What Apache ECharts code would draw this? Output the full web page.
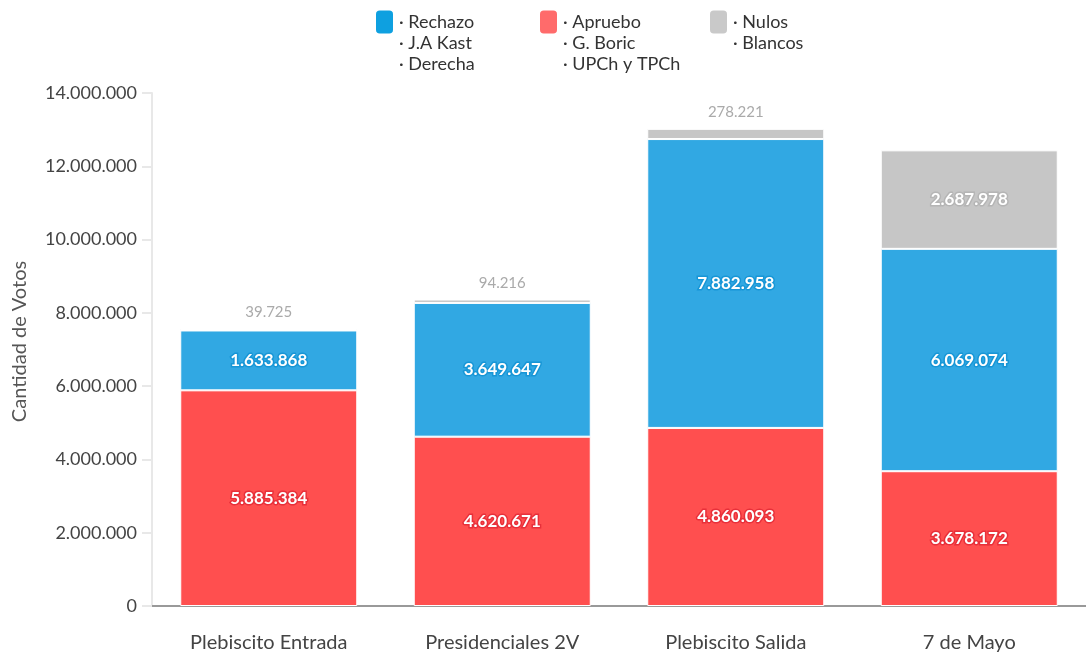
<!DOCTYPE html>
<html>
<head>
<meta charset="utf-8">
<script src="https://cdn.jsdelivr.net/npm/echarts@6/dist/echarts.min.js"></script>
<style>
  html, body { margin: 0; padding: 0; background: #fff; }
  #chart { width: 1086px; height: 655px; }
</style>
</head>
<body>
<div id="chart"></div>
<script>
// datos
const categories = ["Plebiscito Entrada", "Presidenciales 2V", "Plebiscito Salida", "7 de Mayo"];
const apruebo = [5885384, 4620671, 4860093, 3678172];
const rechazo = [1633868, 3649647, 7882958, 6069074];
const nulos = [39725, 94216, 278221, 2687978];
const yTicks = [0, 2000000, 4000000, 6000000, 8000000, 10000000, 12000000, 14000000];
const legendLines = {
  Rechazo: ["· Rechazo", "· J.A Kast", "· Derecha"],
  Apruebo: ["· Apruebo", "· G. Boric", "· UPCh y TPCh"],
  Nulos: ["· Nulos", "· Blancos"],
};

const FONT = "Lato, 'Open Sans', sans-serif";

// formato con punto como separador de miles
const fmt = (v) => String(Math.round(v)).replace(/\B(?=(\d{3})+(?!\d))/g, ".");

const insideLabel = (border) => ({
  show: true,
  position: "inside",
  color: "#fff",
  fontFamily: FONT,
  fontWeight: "bold",
  fontSize: 17,
  textBorderColor: border,
  textBorderWidth: 3,
  formatter: (p) => fmt(p.value),
});

// los nulos pequeños van arriba en gris, el grande adentro
const nulosData = nulos.map((v) => ({
  value: v,
  label: v > 1000000
    ? insideLabel("#b5b5b5")
    : { show: true, position: "top", distance: 9, color: "#aaa", fontFamily: FONT, fontSize: 15, formatter: (p) => fmt(p.value) },
}));

// el icono queda centrado en el texto: se agregan lineas vacias arriba
// para que quede a la altura de la primera linea
const legendLabel = (name) => {
  const lines = legendLines[name];
  const pad = new Array(lines.length - 1).fill("");
  return pad.concat(lines).join("\n");
};

const makeLegend = (name, color, left, top) => ({
  data: [{ name: name, itemStyle: { color: color } }],
  left: left,
  top: top,
  icon: "roundRect",
  itemWidth: 19,
  itemHeight: 25,
  selectedMode: false,
  textStyle: { color: "#333", fontFamily: FONT, fontSize: 18, lineHeight: 21 },
  formatter: legendLabel,
});

const chart = echarts.init(document.getElementById("chart"), null, { renderer: "canvas" });

chart.setOption({
  animation: false,
  textStyle: { fontFamily: FONT },
  legend: [
    makeLegend("Rechazo", "#0ea0e0", 369, -35.5),
    makeLegend("Apruebo", "#ff6b6b", 533, -35.5),
    makeLegend("Nulos", "#c9c9c9", 703, -14.5),
  ],
  grid: { left: 152, top: 93, width: 939, bottom: 49, containLabel: false },
  xAxis: {
    type: "category",
    data: categories,
    axisLine: { lineStyle: { color: "#999", width: 2 } },
    axisTick: { alignWithLabel: true, length: 10, lineStyle: { color: "#999", width: 2 } },
    axisLabel: { color: "#444", fontSize: 20, margin: 27, fontFamily: FONT },
  },
  yAxis: {
    type: "value",
    min: yTicks[0],
    max: yTicks[yTicks.length - 1],
    interval: yTicks[1] - yTicks[0],
    name: "Cantidad de Votos",
    nameLocation: "middle",
    nameGap: 122,
    nameTextStyle: { color: "#555", fontSize: 20, fontFamily: FONT, padding: [0, 0, 0, 16] },
    axisLine: { show: true, lineStyle: { color: "#e8e8e8", width: 2 } },
    axisTick: { show: true, length: 10, lineStyle: { color: "#e8e8e8", width: 2 } },
    splitLine: { show: false },
    axisLabel: { color: "#444", fontSize: 18, margin: 15, fontFamily: FONT, formatter: (v) => fmt(v) },
  },
  series: [
    {
      name: "Apruebo",
      type: "bar",
      stack: "votos",
      barWidth: 177,
      data: apruebo,
      itemStyle: { color: "#ff4f4f", borderColor: "#fff", borderWidth: 1 },
      label: insideLabel("#e8303a"),
    },
    {
      name: "Rechazo",
      type: "bar",
      stack: "votos",
      barWidth: 177,
      data: rechazo,
      itemStyle: { color: "#31a8e3", borderColor: "#fff", borderWidth: 1 },
      label: insideLabel("#1796d6"),
    },
    {
      name: "Nulos",
      type: "bar",
      stack: "votos",
      barWidth: 177,
      data: nulosData,
      itemStyle: { color: "#c6c6c6", borderColor: "#fff", borderWidth: 1 },
    },
  ],
});
</script>
</body>
</html>
